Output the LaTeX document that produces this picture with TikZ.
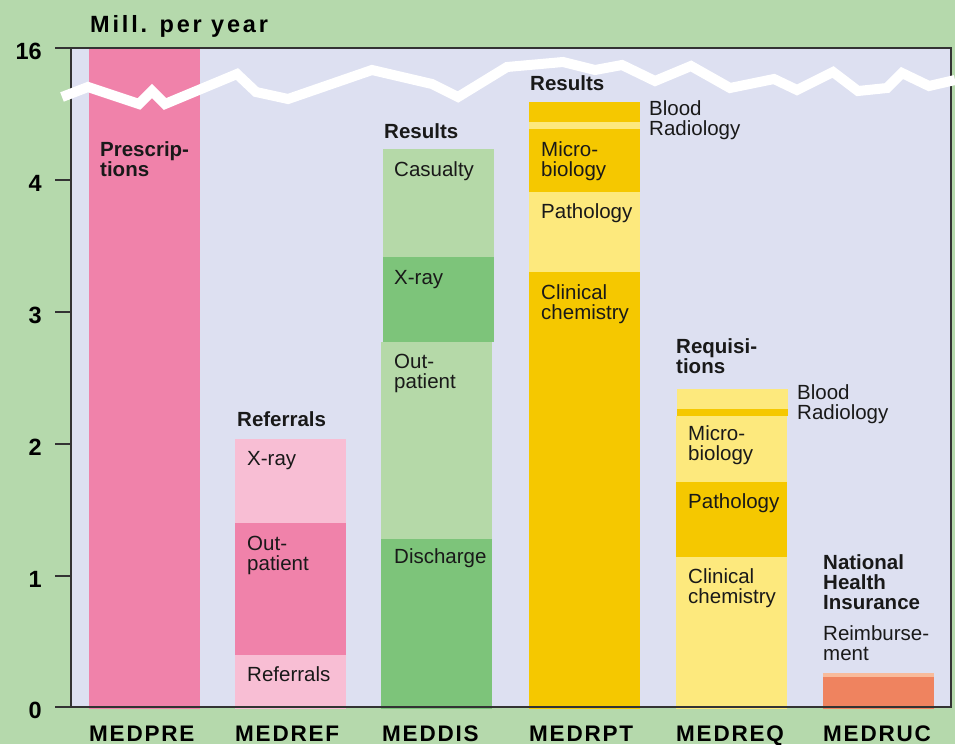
\documentclass[tikz,border=0pt]{standalone}
\usepackage{fontspec}
\setmainfont{Liberation Sans}
\newfontfamily\trackfont[LetterSpace=8]{Liberation Sans}
\newfontfamily\titlefont[LetterSpace=12]{Liberation Sans}
\definecolor{bgout}{HTML}{B5D9AC}
\definecolor{plotbg}{HTML}{DDE0F1}
\definecolor{pinkd}{HTML}{F082AA}
\definecolor{pinkl}{HTML}{F8BED4}
\definecolor{greend}{HTML}{7DC47A}
\definecolor{greenl}{HTML}{B5D9A8}
\definecolor{yeld}{HTML}{F5C800}
\definecolor{yell}{HTML}{FDE97D}
\definecolor{orad}{HTML}{EF835F}
\definecolor{oral}{HTML}{F8BB9B}
\definecolor{framec}{HTML}{333333}
\tikzset{
  lbl/.style={anchor=base west, inner sep=0pt, align=left, text=black!90,
    font=\fontsize{20.5}{20}\selectfont},
  blbl/.style={lbl, font=\fontsize{20.5}{20}\selectfont\bfseries},
  ticklbl/.style={anchor=base east, inner sep=0pt, font=\fontsize{23.5}{24}\selectfont\bfseries},
  catlbl/.style={anchor=base west, inner sep=0pt, font=\fontsize{22.5}{24}\selectfont\trackfont\bfseries},
  tickline/.style={draw=framec, line width=1.3pt},
}
\begin{document}
\begin{tikzpicture}[x=1pt,y=-1pt]
\fill[bgout] (0,0) rectangle (955,744);
\useasboundingbox (0,0) rectangle (955,744);
\fill[plotbg] (71,48) rectangle (951,707);
% MEDPRE
\fill[pinkd] (89,48) rectangle (200,709);
% MEDREF
\fill[pinkl] (235,655) rectangle (346,709);
\fill[pinkd] (235,523) rectangle (346,655);
\fill[pinkl] (235,439) rectangle (346,523);
% MEDDIS
\fill[greend] (381,539) rectangle (492,709);
\fill[greenl] (381,342) rectangle (492,539);
\fill[greend] (383,257) rectangle (494,342);
\fill[greenl] (383,149) rectangle (494,257);
% MEDRPT
\fill[yeld] (529,272) rectangle (640,709);
\fill[yell] (529,192) rectangle (640,272);
\fill[yeld] (529,129) rectangle (640,192);
\fill[yell] (529,122) rectangle (640,129);
\fill[yeld] (529,102) rectangle (640,122);
% MEDREQ
\fill[yell] (676,557) rectangle (787,709);
\fill[yeld] (676,482) rectangle (787,557);
\fill[yell] (676,416) rectangle (787,482);
\fill[yeld] (677,409) rectangle (788,416);
\fill[yell] (677,389) rectangle (788,409);
% MEDRUC
\fill[orad] (823,677) rectangle (934,709);
\fill[oral] (823,673) rectangle (934,677);
% frame
\draw[framec, line width=1.5pt] (71,48) rectangle (951,707);
% ticks
\foreach \y/\t/\n in {48/16/a,180/4/b,312/3/c,444/2/d,576/1/e,707/0/f}{
  \draw[tickline] (55,\y) -- (71,\y);
  \node[ticklbl] (tick\n) at (42,\y+11) {\t};
}
% break line
\draw[white, line width=10pt, line join=miter]
 (62,97) -- (88,87) -- (139,104) -- (152,91) -- (165,104) -- (237,74) -- (256,92)
 -- (288,99) -- (372,70) -- (432,84) -- (458,97) -- (507,67) -- (563,62) -- (595,70)
 -- (622,65) -- (655,81) -- (691,66) -- (730,88) -- (774,79) -- (797,90) -- (833,72)
 -- (858,91) -- (887,88) -- (902,73) -- (929,86) -- (955,80);
% title
\node[anchor=base west, inner sep=0pt, font=\fontsize{23.5}{24}\selectfont\titlefont\bfseries] (title) at (90,32.3) {Mill. per year};
% category labels
\node[catlbl] (cpre) at (89,741) {MEDPRE};
\node[catlbl] (cref) at (235,741) {MEDREF};
\node[catlbl] (cdis) at (382,741) {MEDDIS};
\node[catlbl] (crpt) at (529,741) {MEDRPT};
\node[catlbl] (creq) at (676,741) {MEDREQ};
\node[catlbl] (cruc) at (823,741) {MEDRUC};
% bold headings (multi-line nodes: base = last line)
\node[blbl] (hpre) at (100,176) {Prescrip-\\tions};
\node[blbl] (href) at (237,426) {Referrals};
\node[blbl] (hdis) at (384,138) {Results};
\node[blbl] (hrpt) at (530,90) {Results};
\node[blbl] (hreq) at (676,373) {Requisi-\\tions};
\node[blbl] (hruc) at (823,609) {National\\Health\\Insurance};
% segment labels
\node[lbl] (r1) at (247,465) {X-ray};
\node[lbl] (r2) at (247,570) {Out-\\patient};
\node[lbl] (r3) at (247,681) {Referrals};
\node[lbl] (d1) at (394,176) {Casualty};
\node[lbl] (d2) at (394,284) {X-ray};
\node[lbl] (d3) at (394,388) {Out-\\patient};
\node[lbl] (d4) at (394,563) {Discharge};
\node[lbl] (p1) at (541,176) {Micro-\\biology};
\node[lbl] (p2) at (541,218) {Pathology};
\node[lbl] (p3) at (541,319) {Clinical\\chemistry};
\node[lbl] (p4) at (649,135) {Blood\\Radiology};
\node[lbl] (q1) at (688,460) {Micro-\\biology};
\node[lbl] (q2) at (688,508) {Pathology};
\node[lbl] (q3) at (688,603) {Clinical\\chemistry};
\node[lbl] (q4) at (797,419) {Blood\\Radiology};
\node[lbl] (u1) at (823,660) {Reimburse-\\ment};
\end{tikzpicture}
\end{document}
